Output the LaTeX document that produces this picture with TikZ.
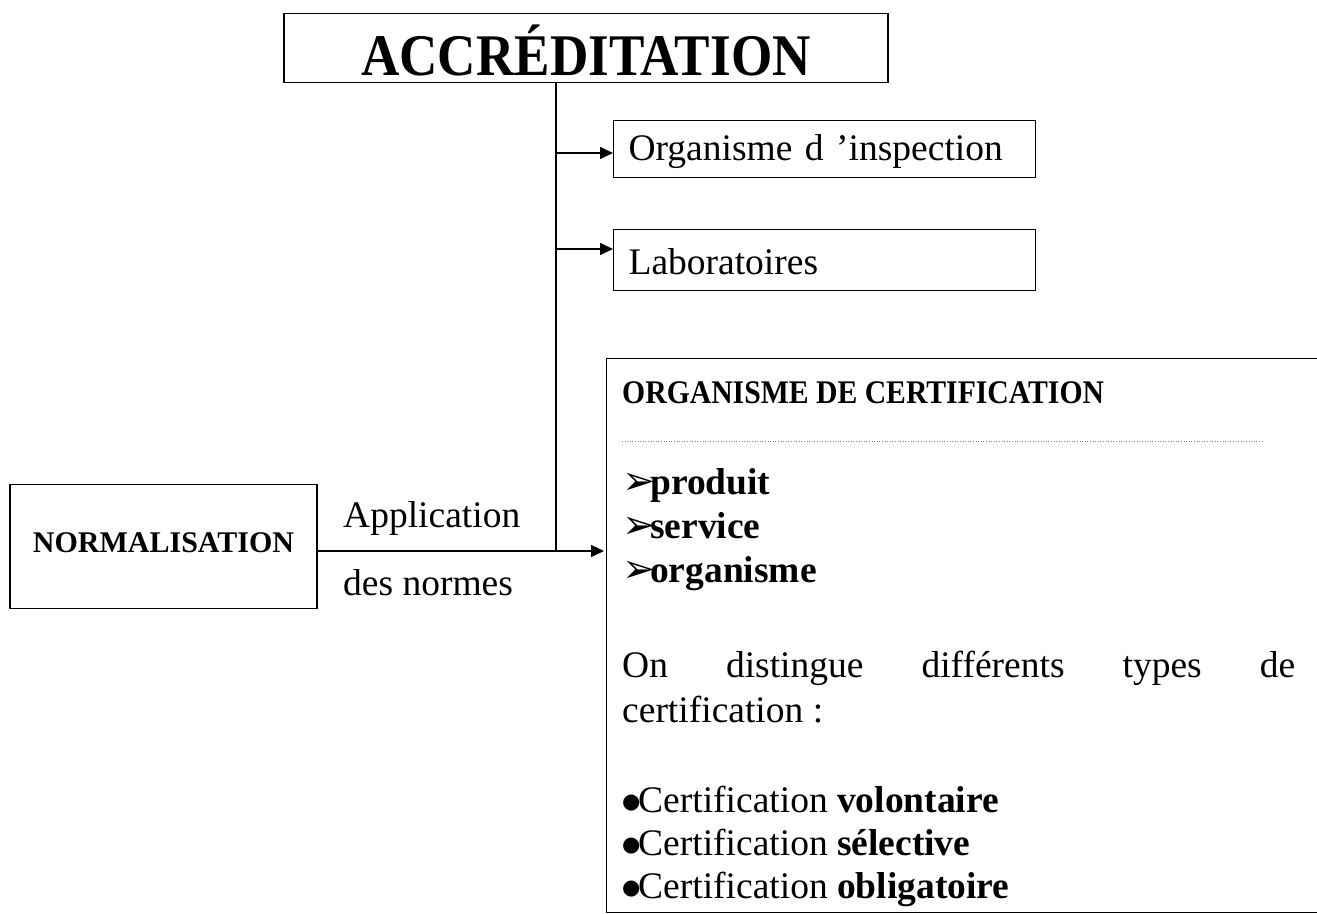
\documentclass[tikz,border=0pt]{standalone}
\usepackage{fontspec}
\setmainfont{Liberation Serif}
\newfontfamily\symfont{DejaVu Sans}
\newfontfamily\tallfont{Liberation Serif}[FakeStretch=0.9]
\usetikzlibrary{arrows.meta,positioning}
\tikzset{
  box/.style={draw, line width=1.2pt, inner sep=0pt},
  link/.style={line width=1.2pt},
  arr/.style={link, -{Triangle[length=13pt,width=12pt]}},
  txt/.style={inner sep=0pt, anchor=base west, font=\fontsize{37.5}{45}\selectfont},
  bigtxt/.style={font=\tallfont\fontsize{59}{66}\selectfont\bfseries},
  captxt/.style={font=\fontsize{30}{36}\selectfont\bfseries},
  titletxt/.style={font=\tallfont\fontsize{33}{40}\selectfont\bfseries},
}
\newcommand{\fleche}{\makebox[28pt][l]{\symfont\fontsize{40}{44}\selectfont ➢}}
\newcommand{\puce}{\makebox[16pt][l]{\raisebox{3.5pt}{\symfont\fontsize{21}{24}\selectfont ●}}}

\begin{document}
\begin{tikzpicture}[x=1pt,y=-1pt]
  \useasboundingbox (0,0) rectangle (1317,913);
  \clip (0,0) rectangle (1317,913);
  %% top box
  \node[box, bigtxt, minimum width=604pt, text height=62pt, text depth=7pt] (accr) at (586,13) [anchor=north] {ACCRÉDITATION};
  %% side boxes
  \node[box, txt, anchor=north west, align=left, text width=392pt, inner xsep=15pt,
        text height=40pt, text depth=17pt] (insp) at (613,120) {Organisme d ’inspection};
  \node[box, txt, anchor=north west, align=left, text width=392pt, inner xsep=15pt,
        text height=45pt, text depth=16pt] (labo) at (613,229) {Laboratoires};
  %% left box
  \node[box, captxt, minimum width=307pt, text height=68pt, text depth=56pt] (norm) at (163.5,484) [anchor=north] {NORMALISATION};
  %% certification box
  \node[box, anchor=north west, minimum width=740pt, minimum height=554pt] (cert) at (606,358) {};
  \node[txt, titletxt] (certtitle) at (622,403) {ORGANISME DE CERTIFICATION};
  \draw[dotted, line width=0.6pt, gray] (certtitle.base west |- 0,441) coordinate (dotA) -- (1262,441) coordinate (dotB);
  \node[txt] (prod) at (622,494) {\fleche\textbf{produit}};
  \node[txt] (serv) at (622,538) {\fleche\textbf{service}};
  \node[txt] (orga) at (622,582) {\fleche\textbf{organisme}};
  \node[txt] (dist) at (622,677) {\makebox[673pt][l]{On\hfill distingue\hfill différents\hfill types\hfill de}};
  \node[txt] (dist2) at (622,722) {certification :};
  \node[txt] (vol) at (622,812) {\puce Certification \textbf{volontaire}};
  \node[txt] (sel) at (622,855) {\puce Certification \textbf{sélective}};
  \node[txt] (obl) at (622,898) {\puce Certification \textbf{obligatoire}};
  %% labels on the link
  \node[txt] (appl) at (343,527) {Application};
  \node[txt] (desn) at (343,595) {des normes};
  %% connectors
  \coordinate (trunk) at (556,551);
  \draw[link] (accr.south -| trunk) -- (trunk);
  \draw[arr] (trunk |- 0,153) -- (insp.west |- 0,153);
  \draw[arr] (trunk |- 0,249) -- (labo.west |- 0,249);
  \draw[arr] (norm.east |- trunk) -- ([xshift=-2pt]cert.west |- trunk);
\end{tikzpicture}
\end{document}
